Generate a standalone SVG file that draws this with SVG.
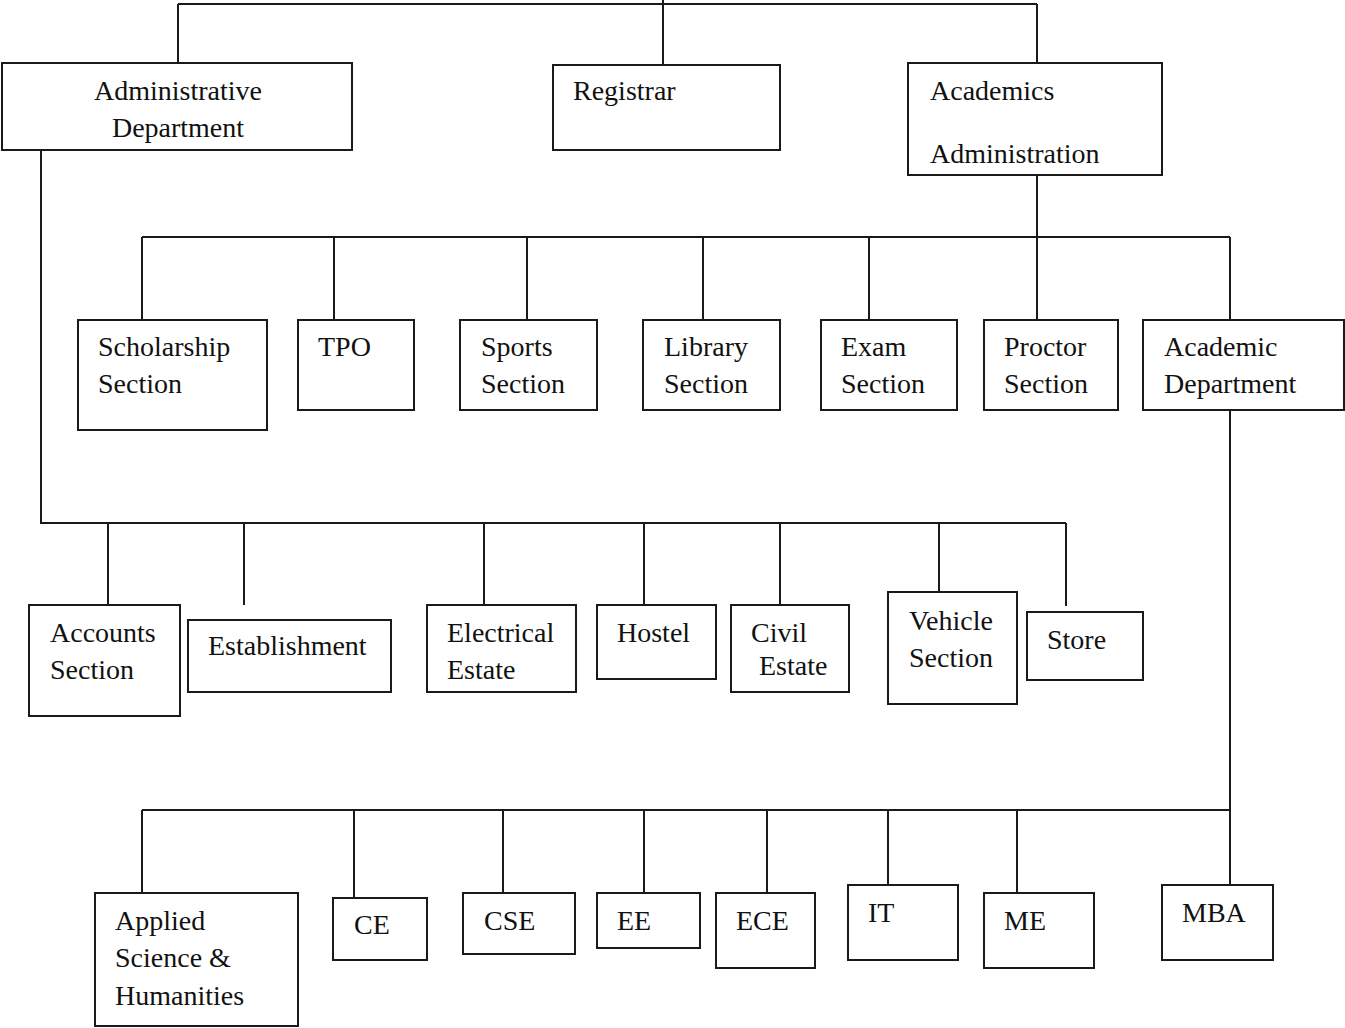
<svg xmlns="http://www.w3.org/2000/svg" width="1345" height="1028" viewBox="0 0 1345 1028">
<style>
.b{fill:#fff;stroke:#1a1a1a;stroke-width:2}
.c{fill:none;stroke:#1a1a1a;stroke-width:2}
text{font-family:"Liberation Serif","Times New Roman",serif;font-size:28px;fill:#111}
</style>
<rect width="1345" height="1028" fill="#fff"/>
<g id="connectors">
<path class="c" d="M663 0V65M178 4H1037M178 4V63M1037 4V63"/>
<path class="c" d="M1037 175V320M142 237H1230M142 237V320M334 237V320M527 237V320M703 237V320M869 237V320M1230 237V320"/>
<path class="c" d="M41 150V523H1066M108 523V605M244 523V605M484 523V605M644 523V605M780 523V605M939 523V592M1066 523V606"/>
<path class="c" d="M1230 410V885M142 810H1230M142 810V893M354 810V898M503 810V893M644 810V893M767 810V893M888 810V885M1017 810V893"/>
</g>
<g id="admin"><rect class="b" x="2" y="63" width="350" height="87"/><text x="178" y="100" text-anchor="middle">Administrative</text><text x="178" y="137" text-anchor="middle">Department</text></g>
<g id="registrar"><rect class="b" x="553" y="65" width="227" height="85"/><text x="573" y="100">Registrar</text></g>
<g id="acad-admin"><rect class="b" x="908" y="63" width="254" height="112"/><text x="930" y="100">Academics</text><text x="930" y="163">Administration</text></g>
<g id="scholarship"><rect class="b" x="78" y="320" width="189" height="110"/><text x="98" y="356">Scholarship</text><text x="98" y="393">Section</text></g>
<g id="tpo"><rect class="b" x="298" y="320" width="116" height="90"/><text x="318" y="356">TPO</text></g>
<g id="sports"><rect class="b" x="460" y="320" width="137" height="90"/><text x="481" y="356">Sports</text><text x="481" y="393">Section</text></g>
<g id="library"><rect class="b" x="643" y="320" width="137" height="90"/><text x="664" y="356">Library</text><text x="664" y="393">Section</text></g>
<g id="exam"><rect class="b" x="821" y="320" width="136" height="90"/><text x="841" y="356">Exam</text><text x="841" y="393">Section</text></g>
<g id="proctor"><rect class="b" x="984" y="320" width="134" height="90"/><text x="1004" y="356">Proctor</text><text x="1004" y="393">Section</text></g>
<g id="acad-dept"><rect class="b" x="1143" y="320" width="201" height="90"/><text x="1164" y="356">Academic</text><text x="1164" y="393">Department</text></g>
<g id="accounts"><rect class="b" x="29" y="605" width="151" height="111"/><text x="50" y="642">Accounts</text><text x="50" y="679">Section</text></g>
<g id="establishment"><rect class="b" x="188" y="620" width="203" height="72"/><text x="208" y="655">Establishment</text></g>
<g id="electrical"><rect class="b" x="427" y="605" width="149" height="87"/><text x="447" y="642">Electrical</text><text x="447" y="679">Estate</text></g>
<g id="hostel"><rect class="b" x="597" y="605" width="119" height="74"/><text x="617" y="642">Hostel</text></g>
<g id="civil"><rect class="b" x="731" y="605" width="118" height="87"/><text x="751" y="642">Civil</text><text x="759" y="675">Estate</text></g>
<g id="vehicle"><rect class="b" x="888" y="592" width="129" height="112"/><text x="909" y="630">Vehicle</text><text x="909" y="667">Section</text></g>
<g id="store"><rect class="b" x="1027" y="612" width="116" height="68"/><text x="1047" y="649">Store</text></g>
<g id="applied"><rect class="b" x="95" y="893" width="203" height="133"/><text x="115" y="930">Applied</text><text x="115" y="967">Science &amp;</text><text x="115" y="1005">Humanities</text></g>
<g id="ce"><rect class="b" x="333" y="898" width="94" height="62"/><text x="354" y="934">CE</text></g>
<g id="cse"><rect class="b" x="463" y="893" width="112" height="61"/><text x="484" y="930">CSE</text></g>
<g id="ee"><rect class="b" x="597" y="893" width="103" height="55"/><text x="617" y="930">EE</text></g>
<g id="ece"><rect class="b" x="716" y="893" width="99" height="75"/><text x="736" y="930">ECE</text></g>
<g id="it"><rect class="b" x="848" y="885" width="110" height="75"/><text x="868" y="922">IT</text></g>
<g id="me"><rect class="b" x="984" y="893" width="110" height="75"/><text x="1004" y="930">ME</text></g>
<g id="mba"><rect class="b" x="1162" y="885" width="111" height="75"/><text x="1182" y="922">MBA</text></g>
</svg>
